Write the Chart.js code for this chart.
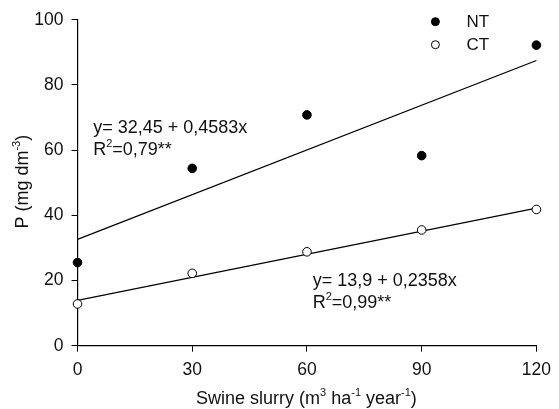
<!DOCTYPE html>
<html>
<head>
<meta charset="utf-8">
<script src="https://cdn.jsdelivr.net/npm/chart.js@4"></script>
<style>
  html, body { margin: 0; padding: 0; background: #fff; }
  #wrap { width: 559px; height: 409px; }
</style>
</head>
<body>
<div id="wrap"><canvas id="chart" width="559" height="409"></canvas></div>
<script>
const doses = [0, 30, 60, 90, 120];
const ntValues = [25.5, 54.4, 70.8, 58.3, 92.2];
const ctValues = [12.8, 22.2, 28.8, 35.5, 41.8];
const fitRange = [0, 120];
const ntFit = [32.6, 87.5];
const ctFit = [13.9, 42.2];
const seriesLabels = ["NT", "CT"];
const ntEquation = ["y= 32,45 + 0,4583x", "0,79**"];
const ctEquation = ["y= 13,9 + 0,2358x", "0,99**"];
// where each equation sits, in data units (left x, baseline y of first line)
const ntEquationAt = [4.1, 65.2];
const ctEquationAt = [61.5, 18.2];

const FONT = '"Liberation Sans", Arial, sans-serif';
const INK = "#111";

function toPoints(xs, ys) {
  return xs.map((x, i) => ({ x: x, y: ys[i] }));
}

// draws text runs, some of them as superscripts
function drawRich(ctx, parts, x, y, align, size) {
  const big = size + "px " + FONT;
  const small = Math.round(size * 0.62) + "px " + FONT;
  let width = 0;
  parts.forEach((p) => {
    ctx.font = p.sup ? small : big;
    width += ctx.measureText(p.t).width;
  });
  let cx = align === "center" ? x - width / 2 : x;
  ctx.textAlign = "left";
  ctx.textBaseline = "alphabetic";
  parts.forEach((p) => {
    ctx.font = p.sup ? small : big;
    ctx.fillText(p.t, cx, p.sup ? y - size * 0.42 : y);
    cx += ctx.measureText(p.t).width;
  });
}

const overlay = {
  id: "overlay",
  afterDraw(chart) {
    const ctx = chart.ctx;
    const xs = chart.scales.x;
    const ys = chart.scales.y;
    const area = chart.chartArea;
    ctx.save();
    ctx.fillStyle = INK;

    // equations
    [[ntEquation, ntEquationAt], [ctEquation, ctEquationAt]].forEach(([eq, at]) => {
      const px = xs.getPixelForValue(at[0]);
      const py = ys.getPixelForValue(at[1]);
      drawRich(ctx, [{ t: eq[0] }], px, py, "left", 18);
      drawRich(ctx, [{ t: "R" }, { t: "2", sup: true }, { t: "=" + eq[1] }], px, py + 21.5, "left", 18);
    });

    // legend
    const lx = area.right - 101;
    [0, 1].forEach((i) => {
      const ly = area.top + 2 + i * 23;
      const ds = chart.data.datasets[i];
      ctx.beginPath();
      ctx.arc(lx, ly, 4, 0, Math.PI * 2);
      ctx.fillStyle = ds.backgroundColor;
      ctx.fill();
      ctx.lineWidth = 1;
      ctx.strokeStyle = ds.borderColor;
      ctx.stroke();
      ctx.fillStyle = INK;
      ctx.font = "17px " + FONT;
      ctx.textBaseline = "middle";
      ctx.textAlign = "left";
      ctx.fillText(seriesLabels[i], lx + 31, ly + 1);
    });

    // x title
    drawRich(ctx, [
      { t: "Swine slurry (m" }, { t: "3", sup: true }, { t: " ha" }, { t: "-1", sup: true },
      { t: " year" }, { t: "-1", sup: true }, { t: ")" }
    ], (area.left + area.right) / 2 - 0.5, 404, "center", 18);

    // y title
    ctx.translate(28, (area.top + area.bottom) / 2 - 1);
    ctx.rotate(-Math.PI / 2);
    drawRich(ctx, [{ t: "P (mg dm" }, { t: "-3", sup: true }, { t: ")" }], 0, 0, "center", 18);
    ctx.restore();
  }
};

const axisStyle = {
  grid: { display: true, drawOnChartArea: false, drawTicks: true, tickLength: 6, color: "#000" },
  border: { display: true, color: "#000", width: 1.2 },
};

new Chart(document.getElementById("chart"), {
  type: "scatter",
  data: {
    datasets: [
      {
        label: seriesLabels[0],
        data: toPoints(doses, ntValues),
        backgroundColor: "#000",
        borderColor: "#000",
        pointRadius: 4.3,
        pointBorderWidth: 1,
        order: 1,
      },
      {
        label: seriesLabels[1],
        data: toPoints(doses, ctValues),
        backgroundColor: "#fff",
        borderColor: "#000",
        pointRadius: 4.3,
        pointBorderWidth: 1,
        order: 1,
      },
      {
        type: "line",
        data: toPoints(fitRange, ntFit),
        borderColor: "#000",
        borderWidth: 1.2,
        pointRadius: 0,
        order: 2,
      },
      {
        type: "line",
        data: toPoints(fitRange, ctFit),
        borderColor: "#000",
        borderWidth: 1.2,
        pointRadius: 0,
        order: 2,
      },
    ],
  },
  options: {
    responsive: false,
    animation: false,
    clip: false,
    layout: { padding: { top: 19.7, right: 16, left: 0, bottom: 0 } },
    plugins: {
      legend: { display: false },
      tooltip: { enabled: false },
    },
    scales: {
      x: {
        type: "linear",
        min: 0,
        max: 120,
        ...axisStyle,
        ticks: { stepSize: 30, color: INK, padding: 8, font: { family: FONT, size: 17.5 } },
        afterFit: (s) => { s.height = 63.3; },
      },
      y: {
        type: "linear",
        min: 0,
        max: 100,
        ...axisStyle,
        ticks: { stepSize: 20, color: INK, padding: 8, font: { family: FONT, size: 17.5 } },
        afterFit: (s) => { s.width = 77.5; },
      },
    },
  },
  plugins: [overlay],
});
</script>
</body>
</html>
